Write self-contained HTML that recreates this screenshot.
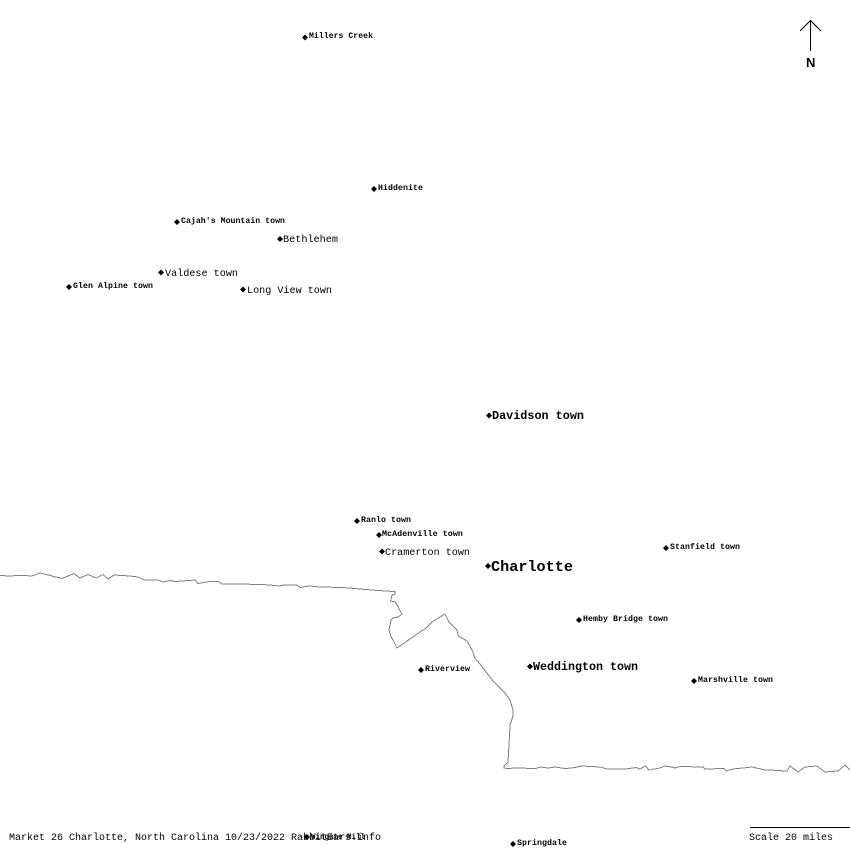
<!DOCTYPE html>
<html><head><meta charset="utf-8"><style>
html,body{margin:0;padding:0;background:#fff}
svg{display:block}
text{font-family:"Liberation Mono","DejaVu Sans Mono",monospace;fill:#000;white-space:pre}
.s{font-size:8px;font-weight:bold;letter-spacing:.05px}
.m{font-size:10.2px}
.b{font-size:12px;font-weight:bold}
</style></head><body>
<svg width="850" height="850" viewBox="0 0 850 850" xmlns="http://www.w3.org/2000/svg">
<polyline fill="none" stroke="#808080" stroke-width="1" shape-rendering="crispEdges" points="0,575.5 10,576 20,575.3 32,576 40,573 48,575 62,578.5 74,573.5 80,578 88,574.5 96,578 103,574.5 108,579 114,575 130,576 138,577 144,580 158,580 163,582 170,580.5 175,581.5 195,580 198,583.5 210,581.5 218,581.5 222,584 237,584 262,584.5 275,585.5 279,586 284,585 297,585 300,587.5 309,586 320,587 342,587.5 355,588.5 360,589 372,590 385,591 395,591.5 395,594 392,595 390.5,601 395,602 398,606 399,609 402,614 398,617 393,618 391,620 389,630 391,637 393,640 397,648 420,632 425,629 432,622 445,614 449,622 457,630 458,635 460,637 467,641 472,650 475,658 480,664 490,677 493,681 505,693 510,700 513,710 513,716 510,725 509,745 508,762 504,766 504,768 507,768.5 516,768 536,768.5 540,767 548,768 555,767 565,768.5 572,768 582,766 600,767 607,769 626,769 636,767.5 640,769 645.5,766 649,770 660,768 665,766 672,767 675,768 680,766.5 703,767 705,769 724,768.5 726,771 733,769 752,767 765,770 770,770 785,771 787,771 790,766 798,772 805,767 817,766 825,772 838,771 845,765 850,770"/>
<g shape-rendering="crispEdges">
<line x1="810.5" y1="20" x2="810.5" y2="51" stroke="#000"/>
<line x1="750" y1="827.5" x2="850" y2="827.5" stroke="#000"/>
</g>
<polyline fill="none" stroke="#000" shape-rendering="crispEdges" points="800,31 810.5,20.5 821,31"/>
<text x="806" y="67" style="font-family:'Liberation Sans',sans-serif;font-size:13px;font-weight:bold">N</text>
<g fill="#000">
<path d="M305 34.5l3 3-3 3-3-3z"/><path d="M374 186l3 3-3 3-3-3z"/><path d="M177 219l3 3-3 3-3-3z"/><path d="M280 236l3 3-3 3-3-3z"/><path d="M161 269.500l3 3-3 3-3-3z"/><path d="M69 284l3 3-3 3-3-3z"/><path d="M243 286.500l3 3-3 3-3-3z"/><path d="M489 412.500l3 3-3 3-3-3z"/><path d="M357 518l3 3-3 3-3-3z"/><path d="M379 532l3 3-3 3-3-3z"/><path d="M382 548.500l3 3-3 3-3-3z"/><path d="M488 563l3 3-3 3-3-3z"/><path d="M666 545l3 3-3 3-3-3z"/><path d="M579 617l3 3-3 3-3-3z"/><path d="M530 663.500l3 3-3 3-3-3z"/><path d="M421 667l3 3-3 3-3-3z"/><path d="M694 678l3 3-3 3-3-3z"/><path d="M513 841l3 3-3 3-3-3z"/><path d="M307 834l3 3-3 3-3-3z"/>
</g>
<text class="s" x="309" y="38" textLength="64" lengthAdjust="spacingAndGlyphs">Millers Creek</text>
<text class="s" x="378" y="190" textLength="45" lengthAdjust="spacingAndGlyphs">Hiddenite</text>
<text class="s" x="181" y="223" textLength="104" lengthAdjust="spacingAndGlyphs">Cajah's Mountain town</text>
<text class="m" x="283" y="242" textLength="55" lengthAdjust="spacingAndGlyphs">Bethlehem</text>
<text class="m" x="165" y="276" textLength="73" lengthAdjust="spacingAndGlyphs">Valdese town</text>
<text class="s" x="73" y="288" textLength="80" lengthAdjust="spacingAndGlyphs">Glen Alpine town</text>
<text class="m" x="247" y="293" textLength="85" lengthAdjust="spacingAndGlyphs">Long View town</text>
<text class="b" x="492" y="419" textLength="92" lengthAdjust="spacingAndGlyphs">Davidson town</text>
<text class="s" x="361" y="522" textLength="50" lengthAdjust="spacingAndGlyphs">Ranlo town</text>
<text class="s" x="382" y="536" textLength="81" lengthAdjust="spacingAndGlyphs">McAdenville town</text>
<text class="m" x="385" y="555" textLength="85" lengthAdjust="spacingAndGlyphs">Cramerton town</text>
<text x="491" y="571" style="font-size:15px;font-weight:bold" textLength="82" lengthAdjust="spacingAndGlyphs">Charlotte</text>
<text class="s" x="670" y="549" textLength="70" lengthAdjust="spacingAndGlyphs">Stanfield town</text>
<text class="s" x="583" y="621" textLength="85" lengthAdjust="spacingAndGlyphs">Hemby Bridge town</text>
<text class="b" x="533" y="670" textLength="105" lengthAdjust="spacingAndGlyphs">Weddington town</text>
<text class="s" x="425" y="671" textLength="45" lengthAdjust="spacingAndGlyphs">Riverview</text>
<text class="s" x="698" y="682" textLength="75" lengthAdjust="spacingAndGlyphs">Marshville town</text>
<text class="s" x="517" y="845" textLength="50" lengthAdjust="spacingAndGlyphs">Springdale</text>
<text class="s" x="311" y="839" textLength="54" lengthAdjust="spacingAndGlyphs">Wingate Mill</text>
<text x="9" y="840" style="font-size:10px" textLength="372" lengthAdjust="spacingAndGlyphs">Market 26 Charlotte, North Carolina 10/23/2022 RabbitEars.info</text>
<text x="749" y="840" style="font-size:10px" textLength="84" lengthAdjust="spacingAndGlyphs">Scale 20 miles</text>
</svg>
</body></html>
